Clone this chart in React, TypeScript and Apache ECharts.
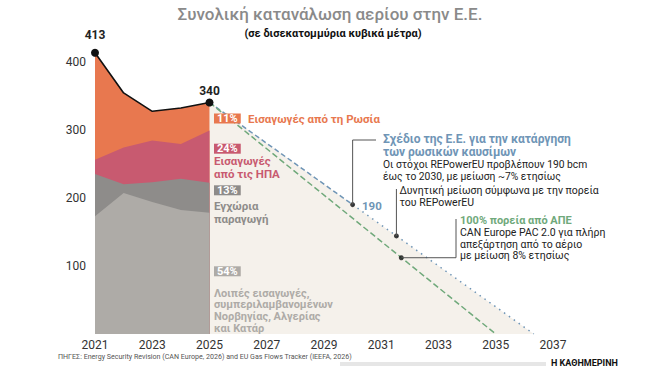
import React, { useEffect, useRef } from "react";
import * as echarts from "echarts";

// Annual EU gas consumption (bcm) by source, 2021-2025
const FIRST_YEAR = 2021;
const LAST_YEAR = 2037;
const YEARS = [2021, 2022, 2023, 2024, 2025];
const TOTAL = [413, 354, 327, 332, 340];
const OTHER_IMPORTS = [173, 207, 194, 182, 178];
const DOMESTIC = [62, 13, 29, 46, 44];
const US_IMPORTS = [21, 54, 61, 51, 77];
const RUSSIA_IMPORTS = [157, 80, 43, 53, 41];
const Y_TICKS = [100, 200, 300, 400];

// Projected pathways [year, bcm]
const REPOWER_PLAN: number[][] = [[2025, 340], [2030, 190]];
const REPOWER_TREND: number[][] = [[2030, 190], [2036.33, 0]];
const RES_PATH: number[][] = [[2025, 340], [2035, 0]];
const NOTE_POINTS: number[][] = [[2030, 190], [2031.53, 144], [2031.7, 112]];

// 2025 shares
const SHARES = ["11%", "24%", "13%", "54%"];

const ORANGE = "#e8784f";
const PINK = "#c85a70";
const DARK_GRAY = "#8e8c8a";
const LIGHT_GRAY = "#aeaba7";
const BEIGE = "#f5f1eb";
const BLUE = "#6f95b6";
const GREEN = "#70a97b";
const FONT = "Roboto";

const toX = (year: number) => year - FIRST_YEAR;
const pts = (arr: number[][]) => arr.map(([y, v]) => [toX(y), v]);

// Layers bottom-up; each area is drawn from 0 to its running top.
const LAYERS = [
  { name: "Λοιπές εισαγωγές", values: OTHER_IMPORTS, color: LIGHT_GRAY },
  { name: "Εγχώρια παραγωγή", values: DOMESTIC, color: DARK_GRAY },
  { name: "Εισαγωγές από τις ΗΠΑ", values: US_IMPORTS, color: PINK },
  { name: "Εισαγωγές από τη Ρωσία", values: RUSSIA_IMPORTS, color: ORANGE },
];

function stackedAreas() {
  const running = YEARS.map(() => 0);
  return LAYERS.map((layer) => {
    const tops = layer.values.map((v, i) => (running[i] += v));
    return {
      name: layer.name,
      type: "line",
      symbol: "none",
      silent: true,
      lineStyle: { width: 0 },
      areaStyle: { color: layer.color, opacity: 1 },
      data: tops.map((v, i) => [toX(YEARS[i]), v]),
      z: 2,
    };
  });
}

export default function App() {
  const ref = useRef<HTMLDivElement>(null);

  useEffect(() => {
    const chart = echarts.init(ref.current!, null, { renderer: "svg" });
    const gridLineEnd = (v: number) => (v === 200 ? 10.2 : 16.25);
    const areas = stackedAreas();

    chart.setOption({
      animation: false,
      grid: { left: 95, right: 107, top: 48, bottom: 36 },
      xAxis: {
        type: "value",
        min: 0,
        max: LAST_YEAR - FIRST_YEAR,
        interval: 2,
        axisLine: { show: false },
        axisTick: { show: false },
        splitLine: { show: false },
        axisLabel: {
          margin: 5,
          color: "#333",
          fontFamily: FONT,
          fontSize: 12,
          formatter: (v: number) => (Number.isInteger(v) && v % 2 === 0 ? String(v + FIRST_YEAR) : ""),
        },
      },
      yAxis: {
        type: "value",
        min: 0,
        max: 420,
        interval: 100,
        axisLine: { show: false },
        axisTick: { show: false },
        splitLine: { show: false },
        axisLabel: {
          margin: 9,
          color: "#333",
          fontFamily: FONT,
          fontSize: 12,
          formatter: (v: number) => (Y_TICKS.includes(v) ? String(v) : ""),
        },
      },
      series: [
        {
          name: "projection-area",
          type: "line",
          symbol: "none",
          lineStyle: { width: 0 },
          areaStyle: { color: BEIGE, opacity: 1 },
          data: [pts(REPOWER_PLAN)[0], pts(REPOWER_TREND)[1]],
          z: 1,
        },
        // reversed so that each lower layer paints over the one above it
        ...areas.slice().reverse(),
        {
          name: "grid-lines",
          type: "line",
          data: [],
          clip: false,
          z: 3,
          markLine: {
            silent: true,
            symbol: ["none", "none"],
            label: { show: false },
            lineStyle: { color: "#8a8a8a", type: [2, 2], width: 1 },
            data: Y_TICKS.map((v) => [{ coord: [-0.08, v] }, { coord: [gridLineEnd(v), v] }]),
          },
        },
        {
          name: "baseline",
          type: "line",
          data: [],
          clip: false,
          z: 3,
          markLine: {
            silent: true,
            symbol: ["none", "none"],
            label: { show: false },
            lineStyle: { color: "#8c8c8c", type: "solid", width: 2 },
            data: [[{ coord: [-0.05, 0] }, { coord: [16.4, 0] }]],
          },
        },
        {
          name: "REPowerEU",
          type: "line",
          symbol: "none",
          lineStyle: { color: BLUE, width: 1.5, type: [5, 3] },
          data: pts(REPOWER_PLAN),
          z: 4,
        },
        {
          name: "REPowerEU trend",
          type: "line",
          symbol: "none",
          lineStyle: { color: BLUE, width: 1.5, type: [1.5, 4.5] },
          data: pts(REPOWER_TREND),
          z: 4,
        },
        {
          name: "100% ΑΠΕ",
          type: "line",
          symbol: "none",
          lineStyle: { color: GREEN, width: 1.5, type: [6, 3] },
          data: pts(RES_PATH),
          z: 4,
        },
        {
          name: "Σύνολο",
          type: "line",
          lineStyle: { color: "#111", width: 1.6 },
          itemStyle: { color: "#111" },
          symbolSize: 8,
          z: 6,
          label: {
            show: false,
            position: "top",
            color: "#222",
            fontFamily: FONT,
            fontWeight: "bold",
            fontSize: 12,
          },
          data: TOTAL.map((v, i) => {
            const ends = i === 0 || i === TOTAL.length - 1;
            return {
              value: [toX(YEARS[i]), v],
              symbol: ends ? "circle" : "none",
              label: { show: ends, distance: i === 0 ? 8 : 1 },
            };
          }),
        },
        {
          name: "notes",
          type: "scatter",
          symbolSize: 5,
          itemStyle: { color: "#111" },
          data: pts(NOTE_POINTS),
          z: 7,
        },
      ],
    });

    const p = NOTE_POINTS.map((pt) => chart.convertToPixel({ gridIndex: 0 }, [toX(pt[0]), pt[1]]) as number[]);
    const leader = { stroke: "#555", lineWidth: 1, fill: null };

    const text = (x: number, y: number, t: string, color: string, size: number, weight: string, lh: number, va = "top") => ({
      type: "text",
      x,
      y,
      z: 20,
      style: {
        text: t,
        fill: color,
        font: `${weight} ${size}px ${FONT}`,
        lineHeight: lh,
        verticalAlign: va,
      },
    });

    const badge = (x: number, y: number, t: string, bg: string) => ({
      type: "text",
      x,
      y,
      z: 20,
      style: {
        text: t,
        fill: "#fff",
        font: `bold 11px ${FONT}`,
        backgroundColor: bg,
        padding: [0, 3, 0, 3],
        lineHeight: 10,
        verticalAlign: "middle",
      },
    });

    chart.setOption({
      graphic: [
        {
          type: "text",
          x: 330,
          y: 14,
          style: {
            text: "Συνολική κατανάλωση αερίου στην Ε.Ε.",
            fill: "#8a8a8a",
            font: `500 17px ${FONT}`,
            align: "center",
            verticalAlign: "middle",
          },
        },
        {
          type: "text",
          x: 333,
          y: 33,
          style: {
            text: "(σε δισεκατομμύρια κυβικά μέτρα)",
            fill: "#111",
            font: `bold 11px ${FONT}`,
            align: "center",
            verticalAlign: "middle",
          },
        },
        badge(214, 118.5, SHARES[0], ORANGE),
        text(248, 119, "Εισαγωγές από τη Ρωσία", ORANGE, 11.5, "bold", 12, "middle"),
        badge(214, 148.7, SHARES[1], PINK),
        text(214, 154.2, "Εισαγωγές\nαπό τις ΗΠΑ", PINK, 11.5, "bold", 13),
        badge(214, 190.3, SHARES[2], DARK_GRAY),
        text(214, 199, "Εγχώρια\nπαραγωγή", DARK_GRAY, 11.5, "bold", 13),
        badge(214, 271.3, SHARES[3], LIGHT_GRAY),
        text(214, 287.3, "Λοιπές εισαγωγές,\nσυμπεριλαμβανομένων\nΝορβηγίας, Αλγερίας\nκαι Κατάρ", LIGHT_GRAY, 11, "bold", 11.8),
        text(383, 133, "Σχέδιο της Ε.Ε. για την κατάργηση\nτων ρωσικών καυσίμων", BLUE, 12, "bold", 12.5),
        text(383, 158.5, "Οι στόχοι REPowerEU προβλέπουν 190 bcm\nέως το 2030, με μείωση ~7% ετησίως", "#222", 10.3, "normal", 11.8),
        text(362, 206, "190", BLUE, 11.5, "bold", 12, "middle"),
        text(399.5, 185, "Δυνητική μείωση σύμφωνα με την πορεία\nτου REPowerEU", "#222", 10.5, "normal", 11.6),
        text(460, 220, "100% πορεία από ΑΠΕ", GREEN, 11, "bold", 12, "middle"),
        text(460, 227, "CAN Europe PAC 2.0 για πλήρη\nαπεξάρτηση από το αέριο\nμε μείωση 8% ετησίως", "#222", 10.5, "normal", 11.5),
        { type: "polyline", z: 15, shape: { points: [[p[0][0], p[0][1]], [p[0][0], 140], [376, 140]] }, style: leader },
        { type: "polyline", z: 15, shape: { points: [[p[1][0], p[1][1]], [p[1][0], 189]] }, style: leader },
        { type: "polyline", z: 15, shape: { points: [[p[2][0], p[2][1]], [456, p[2][1]], [456, 219]] }, style: leader },
        {
          type: "text",
          x: 58,
          y: 356.5,
          style: {
            text: "ΠΗΓΕΣ: Energy Security Revision (CAN Europe, 2026) and EU Gas Flows Tracker (IEEFA, 2026)",
            fill: "#555",
            font: `normal 7.1px "Liberation Sans Narrow", ${FONT}`,
            verticalAlign: "middle",
          },
        },
        { type: "rect", shape: { x: 340, y: 362, width: 206, height: 4 }, style: { fill: "#e6e6e6" } },
        {
          type: "text",
          x: 551,
          y: 363,
          style: {
            text: "Η ΚΑΘΗΜΕΡΙΝΗ",
            fill: "#111",
            font: `bold 9px "Liberation Sans Narrow", ${FONT}`,
            verticalAlign: "middle",
          },
        },
      ],
    });

    return () => chart.dispose();
  }, []);

  return (
    <div
      ref={ref}
      style={{ position: "fixed", left: 0, top: 0, width: 660, height: 370, background: "#fff" }}
    />
  );
}
